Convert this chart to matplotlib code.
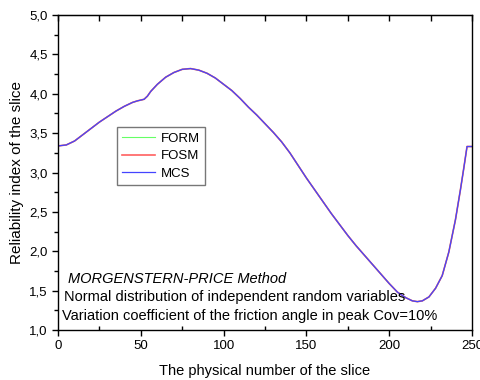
import numpy as np
import matplotlib
matplotlib.use("Agg")
import matplotlib.pyplot as plt
from matplotlib.ticker import MultipleLocator, FuncFormatter

plt.rcParams['font.family'] = ['Liberation Sans', 'DejaVu Sans']

# slice number and reliability index
slices = [1, 5, 10, 15, 20, 25, 30, 35, 40, 45, 48, 50, 52, 54, 56, 60, 65, 70, 75,
          80, 85, 90, 95, 100, 105, 110, 115, 120, 125, 130, 135, 140, 145, 150,
          155, 160, 165, 170, 175, 180, 185, 190, 195, 200, 205, 210, 214, 217,
          220, 224, 228, 232, 236, 240, 243, 245, 247, 250]
mcs_beta = [3.34, 3.35, 3.40, 3.48, 3.56, 3.64, 3.71, 3.78, 3.84, 3.89, 3.91, 3.92,
            3.93, 3.97, 4.03, 4.12, 4.21, 4.27, 4.31, 4.32, 4.30, 4.26, 4.20, 4.12,
            4.04, 3.94, 3.83, 3.73, 3.62, 3.51, 3.39, 3.25, 3.09, 2.93, 2.78, 2.63,
            2.48, 2.34, 2.20, 2.07, 1.95, 1.83, 1.71, 1.59, 1.48, 1.41, 1.37, 1.36,
            1.37, 1.42, 1.53, 1.69, 1.99, 2.40, 2.78, 3.05, 3.33, 3.33]
# the three methods give practically the same curve
form_beta = list(mcs_beta)
fosm_beta = list(mcs_beta)

fig = plt.figure(figsize=(4.81, 3.80), dpi=100)
ax = fig.add_axes([0.1206, 0.1316, 0.8607, 0.8289])

ax.plot(slices, form_beta, color='#66ff66', lw=0.8, label='FORM')
ax.plot(slices, fosm_beta, color='#ff6060', lw=1.2, label='FOSM')
ax.plot(slices, mcs_beta, color='#4444ff', lw=0.9, label='MCS')

ax.set_xlim(0, 250)
ax.set_ylim(1.0, 5.0)
ax.xaxis.set_major_locator(MultipleLocator(50))
ax.xaxis.set_minor_locator(MultipleLocator(25))
ax.yaxis.set_major_locator(MultipleLocator(0.5))
ax.yaxis.set_minor_locator(MultipleLocator(0.25))
ax.yaxis.set_major_formatter(FuncFormatter(lambda v, p: f"{v:.1f}".replace('.', ',')))

ax.tick_params(axis='both', which='major', labelsize=9.5, length=4, width=1, direction='out')
ax.tick_params(axis='y', which='minor', length=3, width=1, direction='out')
ax.tick_params(axis='x', which='minor', length=3, width=1, direction='in')
for s in ax.spines.values():
    s.set_linewidth(1.0)

# top axis ticks point inward
sec = ax.secondary_xaxis('top')
sec.xaxis.set_major_locator(MultipleLocator(25))
sec.tick_params(direction='in', length=4, width=1, labeltop=False)

ax.set_xlabel("The physical number of the slice", fontsize=10.5, labelpad=8)
ax.set_ylabel("Reliability index of the slice", fontsize=11)

ax.text(0.025, 0.163, "MORGENSTERN-PRICE Method", transform=ax.transAxes,
        fontsize=10.5, style='italic', va='center')
ax.text(0.015, 0.104, "Normal distribution of independent random variables",
        transform=ax.transAxes, fontsize=10.5, va='center')
ax.text(0.010, 0.044, "Variation coefficient of the friction angle in peak Cov=10%",
        transform=ax.transAxes, fontsize=10.5, va='center')

leg = ax.legend(loc='upper left', bbox_to_anchor=(0.1425, 0.644), borderaxespad=0,
                fontsize=9.5, fancybox=False, edgecolor='#555555', handlelength=2.5,
                labelspacing=0.4, handletextpad=0.4)
leg.get_frame().set_linewidth(1.0)

fig.savefig("out.png", dpi=100)
